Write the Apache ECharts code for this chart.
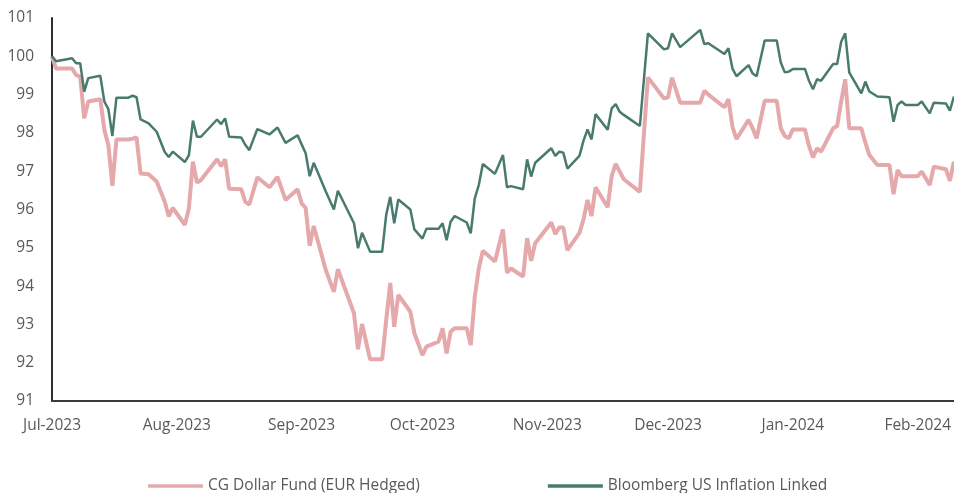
<!DOCTYPE html>
<html>
<head>
<meta charset="utf-8">
<script src="https://cdn.jsdelivr.net/npm/echarts@6/dist/echarts.min.js"></script>
<style>
  html, body { margin: 0; padding: 0; background: #fff; }
</style>
</head>
<body>
<div id="myChart" style="width: 954px; height: 493px;"></div>
<script>
// 日期
var dates = [
  "2023-07-01", "2023-07-02", "2023-07-06", "2023-07-07", "2023-07-08", "2023-07-09", "2023-07-10",
  "2023-07-13", "2023-07-14", "2023-07-15", "2023-07-16", "2023-07-17", "2023-07-20", "2023-07-21",
  "2023-07-22", "2023-07-23", "2023-07-25", "2023-07-27", "2023-07-29", "2023-07-30", "2023-07-31",
  "2023-08-03", "2023-08-04", "2023-08-05", "2023-08-06", "2023-08-07", "2023-08-11", "2023-08-12",
  "2023-08-13", "2023-08-14", "2023-08-17", "2023-08-18", "2023-08-19", "2023-08-21", "2023-08-24",
  "2023-08-26", "2023-08-28", "2023-08-31", "2023-09-01", "2023-09-02", "2023-09-03", "2023-09-04",
  "2023-09-07", "2023-09-09", "2023-09-10", "2023-09-14", "2023-09-15", "2023-09-16", "2023-09-18",
  "2023-09-21", "2023-09-22", "2023-09-23", "2023-09-24", "2023-09-25", "2023-09-28", "2023-09-29",
  "2023-10-01", "2023-10-02", "2023-10-05", "2023-10-06", "2023-10-07", "2023-10-08", "2023-10-09",
  "2023-10-12", "2023-10-13", "2023-10-14", "2023-10-15", "2023-10-16", "2023-10-19", "2023-10-21",
  "2023-10-22", "2023-10-23", "2023-10-26", "2023-10-27", "2023-10-28", "2023-10-29", "2023-11-02",
  "2023-11-03", "2023-11-04", "2023-11-05", "2023-11-06", "2023-11-09", "2023-11-10", "2023-11-11",
  "2023-11-12", "2023-11-13", "2023-11-16", "2023-11-17", "2023-11-18", "2023-11-19", "2023-11-20",
  "2023-11-24", "2023-11-26", "2023-11-30", "2023-12-01", "2023-12-02", "2023-12-04", "2023-12-09",
  "2023-12-10", "2023-12-11", "2023-12-15", "2023-12-16", "2023-12-17", "2023-12-18", "2023-12-21",
  "2023-12-22", "2023-12-23", "2023-12-25", "2023-12-28", "2023-12-29", "2023-12-30", "2023-12-31",
  "2024-01-01", "2024-01-04", "2024-01-05", "2024-01-06", "2024-01-07", "2024-01-08", "2024-01-11",
  "2024-01-12", "2024-01-13", "2024-01-14", "2024-01-15", "2024-01-18", "2024-01-19", "2024-01-20",
  "2024-01-22", "2024-01-25", "2024-01-26", "2024-01-27", "2024-01-28", "2024-01-29", "2024-02-01",
  "2024-02-02", "2024-02-04", "2024-02-05", "2024-02-08", "2024-02-09", "2024-02-10"
];

// CG Dollar Fund (EUR Hedged)
var fundData = [
  100.0, 99.68, 99.68, 99.51, 99.47, 98.38, 98.82,
  98.88, 98.08, 97.68, 96.62, 97.83, 97.83, 97.85,
  97.88, 96.94, 96.92, 96.73, 96.2, 95.82, 96.04,
  95.6, 96.03, 97.25, 96.7, 96.77, 97.31, 97.13,
  97.31, 96.54, 96.53, 96.2, 96.13, 96.84, 96.58,
  96.85, 96.25, 96.53, 96.16, 96.04, 95.05, 95.57,
  94.42, 93.85, 94.44, 93.29, 92.35, 93.01, 92.09,
  92.09, 93.11, 94.08, 92.94, 93.77, 93.33, 92.77,
  92.2, 92.42, 92.55, 92.9, 92.24, 92.81, 92.9,
  92.9, 92.46, 93.72, 94.46, 94.92, 94.64, 95.48,
  94.35, 94.46, 94.25, 95.25, 94.66, 95.12, 95.66,
  95.36, 95.53, 95.53, 94.94, 95.39, 95.74, 96.25,
  95.83, 96.58, 96.06, 96.87, 97.19, 96.99, 96.79,
  96.46, 99.45, 98.9, 98.93, 99.44, 98.79, 98.79,
  99.1, 99.0, 98.67, 98.88, 98.16, 97.84, 98.34,
  98.12, 97.86, 98.84, 98.84, 98.12, 97.92, 97.86,
  98.09, 98.09, 97.66, 97.36, 97.6, 97.51, 98.12,
  98.18, 98.82, 99.4, 98.12, 98.12, 97.75, 97.42,
  97.16, 97.16, 96.4, 97.03, 96.87, 96.87, 96.87,
  96.99, 96.64, 97.12, 97.05, 96.75, 97.25
];

// Bloomberg US Inflation Linked
var benchData = [
  100.0, 99.87, 99.95, 99.82, 99.82, 99.08, 99.43,
  99.49, 98.82, 98.62, 97.92, 98.92, 98.92, 98.97,
  98.93, 98.35, 98.25, 98.03, 97.5, 97.37, 97.51,
  97.24, 97.42, 98.32, 97.9, 97.9, 98.35, 98.23,
  98.38, 97.9, 97.88, 97.69, 97.55, 98.1, 97.96,
  98.14, 97.74, 97.94, 97.7, 97.47, 96.87, 97.22,
  96.47, 96.0, 96.49, 95.64, 94.99, 95.39, 94.9,
  94.9, 95.86, 96.33, 95.64, 96.26, 96.0, 95.48,
  95.24, 95.5, 95.5, 95.64, 95.2, 95.68, 95.83,
  95.66, 95.38, 96.29, 96.64, 97.19, 96.93, 97.42,
  96.58, 96.61, 96.53, 97.31, 96.86, 97.22, 97.6,
  97.4, 97.51, 97.48, 97.07, 97.4, 97.8, 98.09,
  97.83, 98.49, 98.08, 98.64, 98.75, 98.55, 98.47,
  98.18, 100.6, 100.18, 100.21, 100.6, 100.24, 100.69,
  100.32, 100.34, 100.06, 100.21, 99.68, 99.48, 99.77,
  99.55, 99.48, 100.41, 100.41, 99.84, 99.58, 99.6,
  99.67, 99.67, 99.36, 99.14, 99.4, 99.36, 99.8,
  99.8, 100.38, 100.6, 99.58, 99.03, 99.34, 99.08,
  98.95, 98.93, 98.29, 98.73, 98.82, 98.73, 98.73,
  98.82, 98.51, 98.79, 98.77, 98.58, 98.95
];

var monthNames = ["Jan", "Feb", "Mar", "Apr", "May", "Jun", "Jul", "Aug", "Sep", "Oct", "Nov", "Dec"];
var DAY = 24 * 3600 * 1000;

function pairs(values) {
  return dates.map(function (d, i) { return [d, values[i]]; });
}

var myChart = echarts.init(document.getElementById("myChart"));
myChart.setOption({
  animation: false,
  color: ["#e5a8ab", "#487a6e"],
  textStyle: { fontFamily: "Open Sans" },
  legend: {
    data: ["CG Dollar Fund (EUR Hedged)", "Bloomberg US Inflation Linked"],
    top: 473,
    left: 143,
    icon: "rect",
    itemWidth: 55,
    itemHeight: 3.5,
    itemGap: 128,
    textStyle: { color: "#595959", fontSize: 15.5, fontFamily: "Open Sans" }
  },
  grid: {
    left: 52,
    right: 0,
    top: 18,
    bottom: 92
  },
  xAxis: {
    type: "time",
    min: "2023-07-01",
    max: "2024-02-10",
    minInterval: 28 * DAY,
    maxInterval: 31 * DAY,
    axisLine: { lineStyle: { color: "#3c3c3c", width: 2 } },
    axisTick: { show: false },
    splitLine: { show: false },
    axisLabel: {
      color: "#595959",
      fontSize: 15.5,
      margin: 17,
      showMinLabel: true,
      hideOverlap: false,
      formatter: function (value) {
        var d = new Date(value);
        if (d.getDate() !== 1) return "";
        return monthNames[d.getMonth()] + "-" + d.getFullYear();
      }
    }
  },
  yAxis: {
    type: "value",
    min: 91,
    max: 101,
    interval: 1,
    axisLine: { show: true, lineStyle: { color: "#2f2f2f", width: 2 } },
    axisTick: { show: false },
    splitLine: { show: false },
    axisLabel: { color: "#595959", fontSize: 15.5, margin: 18 }
  },
  series: [
    {
      name: "CG Dollar Fund (EUR Hedged)",
      type: "line",
      data: pairs(fundData),
      symbol: "none",
      lineStyle: { width: 4 }
    },
    {
      name: "Bloomberg US Inflation Linked",
      type: "line",
      data: pairs(benchData),
      symbol: "none",
      lineStyle: { width: 2.5 }
    }
  ]
});
</script>
</body>
</html>
